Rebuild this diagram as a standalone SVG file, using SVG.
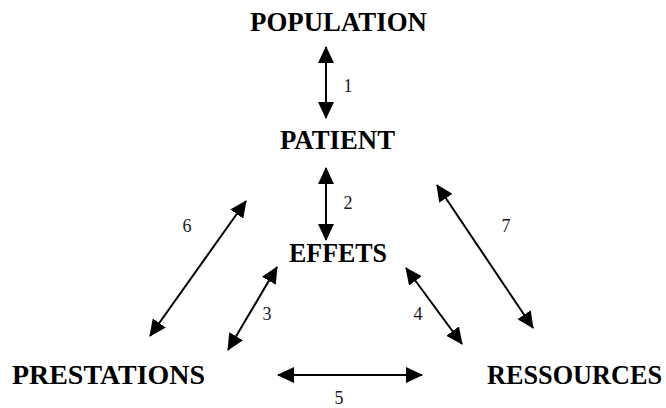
<svg xmlns="http://www.w3.org/2000/svg" width="666" height="408" viewBox="0 0 666 408">
  <style>
    .node { font-family: "Liberation Serif", "Times New Roman", serif; font-weight: bold; font-size: 27px; fill: #000; text-anchor: start; }
    .num { font-family: "Liberation Serif", "Times New Roman", serif; font-size: 18px; fill: #1a1a1a; text-anchor: middle; }
    .link { stroke: #000; stroke-width: 2; fill: none; marker-start: url(#head); marker-end: url(#head); }
  </style>
  <defs>
    <marker id="head" markerUnits="userSpaceOnUse" markerWidth="17" markerHeight="16" viewBox="0 0 17 16" refX="16" refY="8" orient="auto-start-reverse">
      <path d="M0,0 L17,8 L0,16 Z" fill="#000"/>
    </marker>
  </defs>
  <rect width="666" height="408" fill="#fff"/>

  <g id="population"><text class="node" x="250" y="31" textLength="177" lengthAdjust="spacingAndGlyphs">POPULATION</text></g>
  <g id="patient"><text class="node" x="280" y="149" textLength="115" lengthAdjust="spacingAndGlyphs">PATIENT</text></g>
  <g id="effets"><text class="node" x="289" y="262" textLength="98" lengthAdjust="spacingAndGlyphs">EFFETS</text></g>
  <g id="prestations"><text class="node" x="12" y="384" textLength="193" lengthAdjust="spacingAndGlyphs">PRESTATIONS</text></g>
  <g id="ressources"><text class="node" x="487" y="384" textLength="175" lengthAdjust="spacingAndGlyphs">RESSOURCES</text></g>

  <g id="connectors">
    <line class="link" x1="326" y1="47" x2="326" y2="118"/>
    <line class="link" x1="326" y1="168" x2="326" y2="240"/>
    <line class="link" x1="277" y1="267" x2="228" y2="350"/>
    <line class="link" x1="406" y1="268" x2="462" y2="344"/>
    <line class="link" x1="278" y1="375" x2="422" y2="375"/>
    <line class="link" x1="246" y1="201" x2="150" y2="336"/>
    <line class="link" x1="437" y1="185" x2="533" y2="328"/>
    <text class="num" x="348" y="92">1</text>
    <text class="num" x="348" y="209">2</text>
    <text class="num" x="267" y="320">3</text>
    <text class="num" x="418" y="320">4</text>
    <text class="num" x="339" y="404">5</text>
    <text class="num" x="187" y="232">6</text>
    <text class="num" x="506" y="232">7</text>
  </g>
</svg>
